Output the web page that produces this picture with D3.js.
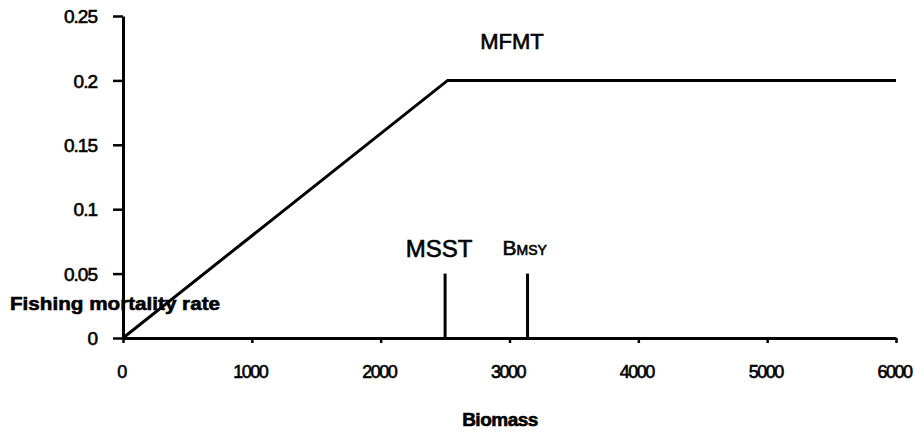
<html>
<head>
    <script src="https://d3js.org/d3.v7.min.js"></script>
    <style>
        body { margin: 0; background: #fff; }
        text { font-family: "Liberation Sans", Arial, sans-serif; fill: #000; stroke: #000; stroke-width: 0.6px; }
    </style>
</head>
<body>
    <svg id="chart" width="915" height="434"></svg>
    <script>
        // control rule: F rises from 0 to MFMT, then stays flat
        var biomass = [0, 2520, 6000];
        var fRate = [0, 0.2, 0.2];
        var xTicks = [0, 1000, 2000, 3000, 4000, 5000, 6000];
        var yTicks = [0, 0.05, 0.1, 0.15, 0.2, 0.25];
        var yTickLabels = ["0", "0.05", "0.1", "0.15", "0.2", "0.25"];
        var refNames = ["MSST", "BMSY"];
        var refValues = [2500, 3140];
        var refHeight = 0.05;

        var svg = d3.select("#chart");

        var x = d3.scaleLinear().domain([0, 6000]).range([123, 896]);
        var y = d3.scaleLinear().domain([0, 0.25]).range([338, 16]);

        // y axis
        var yAxis = svg.append("g")
            .attr("transform", "translate(" + x(0) + ",0)")
            .call(d3.axisLeft(y).tickValues(yTicks)
                .tickFormat((d, i) => yTickLabels[i])
                .tickSizeInner(10).tickSizeOuter(0).tickPadding(16));
        yAxis.select(".domain").attr("stroke-width", 3);
        yAxis.selectAll(".tick line").attr("stroke-width", 2.5);
        yAxis.selectAll(".tick text")
            .style("font-size", "19px")
            .style("letter-spacing", "-1px")
            .attr("dy", "0.35em");

        // x axis
        var xAxis = svg.append("g")
            .attr("transform", "translate(0," + y(0) + ")")
            .call(d3.axisBottom(x).tickValues(xTicks)
                .tickFormat(d3.format("d"))
                .tickSizeInner(5).tickSizeOuter(0).tickPadding(22));
        xAxis.select(".domain").attr("stroke-width", 3);
        xAxis.selectAll(".tick line").attr("stroke-width", 2.5);
        xAxis.selectAll(".tick text")
            .style("font-size", "18px")
            .style("letter-spacing", "-1.5px")
            .attr("dx", "-2px");

        // harvest control line
        var line = d3.line()
            .x((d, i) => x(biomass[i]))
            .y((d, i) => y(fRate[i]));
        svg.append("path")
            .datum(biomass)
            .attr("d", line)
            .attr("fill", "none")
            .attr("stroke", "#000")
            .attr("stroke-width", 3);

        // reference points
        svg.selectAll(".ref")
            .data(refValues)
            .enter()
            .append("line")
            .attr("x1", (d) => x(d))
            .attr("x2", (d) => x(d))
            .attr("y1", y(refHeight))
            .attr("y2", y(0))
            .attr("stroke", "#000")
            .attr("stroke-width", 3);

        svg.append("text")
            .attr("x", x(refValues[0]) - 6)
            .attr("y", 257)
            .attr("text-anchor", "middle")
            .style("font-size", "24px")
            .text(refNames[0]);

        var bm = svg.append("text")
            .attr("x", x(refValues[1]) - 25)
            .attr("y", 255)
            .style("font-size", "21px");
        bm.append("tspan").text("B");
        bm.append("tspan").style("font-size", "14px").text("MSY");

        svg.append("text")
            .attr("x", 512)
            .attr("y", 49)
            .attr("text-anchor", "middle")
            .style("font-size", "22px")
            .text("MFMT");

        // axis titles
        svg.append("text")
            .attr("x", 10)
            .attr("y", 310)
            .attr("textLength", 210)
            .attr("lengthAdjust", "spacingAndGlyphs")
            .style("font-size", "19px")
            .style("font-weight", "bold")
            .text("Fishing mortality rate");

        svg.append("text")
            .attr("x", 500)
            .attr("y", 426)
            .attr("text-anchor", "middle")
            .style("font-size", "19px")
            .style("font-weight", "bold")
            .style("letter-spacing", "-0.5px")
            .text("Biomass");
    </script>
</body>
</html>
